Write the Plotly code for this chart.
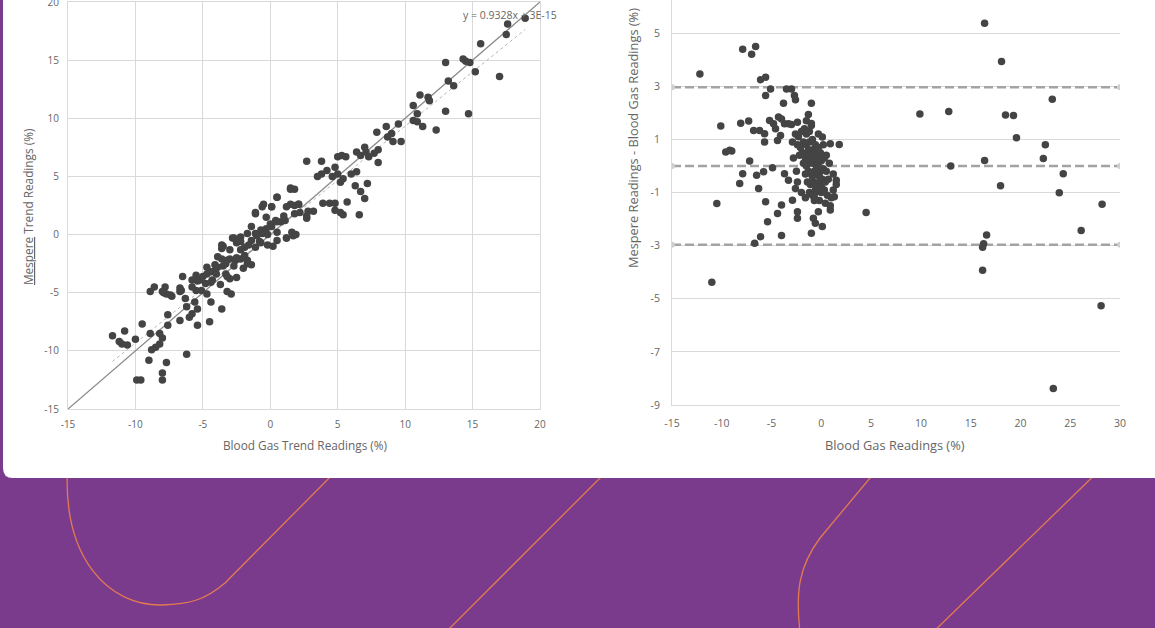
import plotly.graph_objects as go

# ---------------- DATA ----------------
# Left: Mespere trend vs blood gas trend (%)
left_x = [17.6, 18.9, 17.5, 15.6, 17.0, 15.2, 13.0, 14.3, 14.5, 14.8, 13.2, 13.6, 13.0, 14.7,
          11.1, 11.7, 11.8, 10.6, 10.9, 10.6, 10.9, 11.3, 12.3, 9.5, 9.7, 9.0, 8.6, 9.1, 8.7,
          7.9, 8.0, 8.0, 7.7, 7.0, 7.1, 6.4, 6.7, 7.3, 7.2, 7.0, 6.7, 6.3, 6.4, 6.0, 5.4, 5.2,
          5.0, 4.8, 5.0, 5.3, 5.6, 4.6, 4.2, 3.8, 3.5, 3.8, 2.7, 3.9, 4.4, 4.8, 4.8, 5.2, 5.4,
          5.7, 6.6, 3.2, 2.8, 2.7, 2.1, 1.5, 1.8, 1.8, 1.8, 1.2, 0.5, 0.1, -0.6, -1.1, 1.9, 1.2,
          1.6, 0.8, 0.4, 1.1, 0.1, -0.3, -0.6, 0.5, 0.2, -0.2, -0.8, -1.1, -1.1, -1.4, -1.4,
          -1.7, -1.9, -2.2, -2.5, -2.8, -1.9, -2.2, -2.6, -3.0, -3.3, -3.6, -3.6, -3.6, -3.3,
          -3.0, -2.9, -3.2, -3.6, -3.9, -4.1, -4.3, -4.4, -4.5, -4.7, -4.8, -4.7, -5.1, -5.2,
          -5.5, -5.8, -5.5, -5.6, -5.4, -5.4, -5.8, -6.2, -6.0, -6.3, -6.5, -6.7, -6.7, -6.2,
          -7.6, -7.6, -7.7, -8.0, -8.0, -8.0, -8.2, -8.5, -8.8, -8.2, -8.9, -9.0, -9.5, -9.6,
          -9.9, -10.0, -10.8, -10.6, -11.0, -11.2, -11.7, -8.9, -8.6, -7.8, -8.0, -7.7, -7.4,
          -6.6, -4.7, 1.5, 0.5, -0.5, 0.1, -1.1, -0.3, 1.5, 2.1, 2.2, 2.7, 1.0, 0.5, 0.0, -0.7,
          -1.4, -1.7, -2.2, -2.7, -1.0, -0.2, 0.5, 1.2, 1.7, -2.5, -1.6, -0.7, -3.5, -3.0, -2.2,
          -3.9, -3.2, -2.5, -1.7, -4.1, -3.5, -2.7, -2.0, -4.4, -5.0, -4.0, -3.2, -2.5, -5.4,
          -4.4, -3.7, -5.8, -7.9, -7.3, -6.7]
left_y = [18.1, 18.6, 17.2, 16.4, 13.6, 14.0, 14.8, 15.1, 14.9, 14.8, 13.2, 12.8, 10.6, 10.4,
          12.0, 11.8, 11.5, 11.1, 10.4, 9.8, 9.7, 9.3, 9.0, 9.5, 8.0, 8.7, 9.3, 8.0, 8.4,
          8.8, 7.3, 6.2, 7.0, 7.5, 7.1, 7.1, 6.8, 6.7, 4.4, 3.1, 3.7, 4.2, 5.4, 5.2, 4.8, 4.5,
          5.2, 5.8, 6.7, 6.8, 6.7, 5.0, 5.5, 5.2, 5.0, 6.3, 6.3, 2.7, 2.7, 2.7, 2.1, 1.9, 1.7,
          2.8, 1.7, 2.0, 2.0, 1.4, 2.6, 3.9, 3.9, 2.5, 1.8, 2.4, 3.2, 2.4, 2.4, 1.8, 0.0, -0.3,
          0.2, 1.1, 1.2, 1.2, 0.7, 0.5, 0.1, -0.5, -1.0, -0.9, -0.6, 0.1, -1.1, -0.5, -2.6,
          -2.5, -1.1, -0.6, -0.5, -0.3, -1.8, -2.1, -2.2, -2.1, -2.5, -2.1, -1.2, -0.9, -3.4,
          -3.8, -5.1, -4.9, -6.4, -2.8, -3.1, -3.9, -5.8, -7.5, -3.4, -4.2, -5.1, -4.8, -3.9,
          -3.5, -3.9, -4.8, -5.8, -6.4, -7.8, -6.8, -6.2, -7.1, -5.5, -3.6, -4.9, -7.4, -10.3,
          -6.9, -7.8, -11.0, -11.9, -12.5, -8.9, -9.4, -9.7, -9.9, -8.5, -8.5, -10.8, -7.7, -12.5,
          -12.5, -9.0, -8.3, -9.5, -9.4, -9.2, -8.7, -4.9, -4.5, -4.5, -4.9, -5.1, -5.2,
          -4.8, -2.8, 4.0, 3.2, 2.6, 2.4, 1.9, 1.5, 2.6, 2.6, 1.9, 1.6, 1.6, 1.1, 0.9, 0.4,
          0.7, 0.1, -0.2, -0.3, -0.1, 0.0, 0.2, -0.3, -0.1, -0.7, -0.9, -0.7, -1.0, -1.3, -1.3,
          -1.9, -2.2, -2.0, -2.2, -2.6, -2.7, -2.7, -2.9, -3.2, -3.6, -3.4, -3.6, -3.7, -4.0,
          -4.1, -4.3, -4.5, -5.0, -5.3, -4.6]

# Right: Bland-Altman (difference vs blood gas reading)
right_x = [-12.2, -7.9, -7.0, -6.6, -6.1, -5.6, -5.1, -5.6, -3.5, -3.0, -2.7, -2.6, -3.8, -1.0,
           -1.3, -10.1, -8.1, -7.3, -6.8, -6.2, -5.7, -5.7, -5.2, -4.8, -4.3, -4.0, -3.7, -4.6,
           -4.1, -4.4, -3.3, -3.0, -2.4, -9.6, -9.2, -9.0, -7.2, -5.8, -4.9, -7.9, -8.2, -6.5,
           -6.3, -3.7, -3.3, -2.6, -5.6, -4.0, -4.4, -5.4, -6.1, -4.0, -6.7, -2.9, -2.4, -2.4,
           -1.0, 0.1, -0.8, -0.6, -0.3, 0.9, 1.8, 1.5, 1.3, 0.9, 0.1, -1.0, -10.5, -11.0, 4.5,
           9.9, 12.8, 13.0, 16.4, 18.1, 18.5, 19.3, 19.6, 16.4, 18.0, 16.6, 16.3, 16.2, 16.2,
           23.2, 22.5, 22.3, 24.3, 23.9, 26.1, 28.2, 28.1, 23.3,
           -2.6, -2.3, -2.0, -1.7, -1.5, -1.2, -2.4, -2.1, -1.8, -1.5, -1.2, -0.9, -0.6, -2.2,
           -1.9, -1.6, -1.3, -1.0, -0.7, -0.4, -0.1, -1.8, -1.5, -1.2, -0.9, -0.6, -0.3, 0.0,
           0.3, -1.6, -1.3, -1.0, -0.7, -0.4, -0.1, 0.2, 0.5, -1.4, -1.1, -0.8, -0.5, -0.2,
           0.1, 0.4, 0.7, -1.2, -0.9, -0.6, -0.3, 0.0, 0.3, 0.6, 1.0, 1.2, -0.7, -0.2, 0.4, 0.9,
           -2.0, -1.6, -2.4, -2.8, -2.9, -2.5, -0.3, 0.2, 0.5, 0.8, 1.2, 1.5, -1.5, -1.0,
           -1.1, -0.8, -0.5, -0.2, -0.9, -0.6, -0.3, -1.3, -0.4, 0.0, -0.7, -1.0]
right_y = [3.46, 4.40, 4.21, 4.50, 3.25, 3.34, 2.90, 2.65, 2.90, 2.90, 2.65, 2.49, 2.36, 2.36,
           1.94, 1.51, 1.61, 1.69, 1.34, 1.34, 1.21, 0.90, 1.71, 1.59, 1.84, 1.77, 1.59, 1.40,
           1.15, 0.96, 1.59, 1.56, 1.65, 0.53, 0.59, 0.56, 0.19, -0.22, -0.07, -0.29, -0.66,
           -0.35, -0.85, -0.29, -0.54, -0.85, -1.35, -1.47, -1.79, -2.10, -2.66, -2.62, -2.91,
           -1.29, -1.72, -1.97, -2.53, -2.28, -1.97, -2.16, -1.72, 0.84, 0.81, -0.54, -1.16,
           -1.66, 1.09, 1.52, -1.41, -4.38, -1.75, 1.96, 2.05, 0.0, 5.37, 3.93, 1.92, 1.90, 1.06,
           0.21, -0.74, -2.60, -2.93, -3.06, -3.93, 2.51, 0.80, 0.28, -0.29, -1.01, -2.43, -1.44,
           -5.26, -8.38,
           1.2, 1.1, 1.3, 1.4, 1.2, 1.3, 0.8, 0.7, 0.9, 0.8, 0.9, 1.0, 0.8, 0.4, 0.5, 0.3, 0.5,
           0.6, 0.5, 0.6, 0.5, 0.1, 0.0, 0.2, 0.1, 0.2, 0.1, 0.2, 0.3, -0.3, -0.2, -0.3, -0.2,
           -0.3, -0.2, -0.1, -0.2, -0.6, -0.7, -0.6, -0.7, -0.6, -0.5, -0.6, -0.5, -1.0, -1.1,
           -1.0, -0.9, -1.0, -0.9, -1.1, -1.2, -0.9, -1.3, -1.3, -1.4, -1.5, -1.0, -1.2, -0.6,
           0.3, 0.9, -0.2, 1.2, 0.8, 0.4, 0.1, -0.3, -0.7, 1.7, 1.6,
           0.4, 0.3, 0.0, -0.4, -0.4, -0.9, 0.7, 0.6, 0.3, -0.8, -1.2, 0.2]

# Reference lines
identity_x = [-15, 20]
trend_slope = 0.9328
trend_x = [-11.7, 18.9]
mean_diff = 0.0
upper_loa = 2.96
lower_loa = -2.97
loa_x = [-15, 30]

left_ticks = [-15, -10, -5, 0, 5, 10, 15, 20]
left_tick_text = ["-15", "-10", "-5", "0", "5", "10", "15", "20"]
right_xticks = [-15, -10, -5, 0, 5, 10, 15, 20, 25, 30]
right_xtick_text = ["-15", "-10", "-5", "0", "5", "10", "15", "20", "25", "30"]
right_yticks = [5, 3, 1, -1, -3, -5, -7, -9]
right_ytick_text = ["5", "3", "1", "-1", "-3", "-5", "-7", "-9"]

# ---------------- LAYOUT HELPERS ----------------
W, H = 1155, 628
def px(x):
    return x / W
def py(y):
    return 1 - y / H

PURPLE = "#7b3b8c"
ORANGE = "#e27a52"
GRID = "#d9d9d9"
DOT = "#444444"
TXT = "#666666"
FONT = "Open Sans"

fig = go.Figure()

# left chart
fig.add_trace(go.Scatter(x=identity_x, y=identity_x, mode="lines",
                         line=dict(color="#8a8a8a", width=1.3), xaxis="x", yaxis="y",
                         hoverinfo="skip", showlegend=False))
fig.add_trace(go.Scatter(x=trend_x, y=[trend_slope * v for v in trend_x], mode="lines",
                         line=dict(color="#b5b5b5", width=1, dash="dot"), xaxis="x", yaxis="y",
                         hoverinfo="skip", showlegend=False))
fig.add_trace(go.Scatter(x=left_x, y=left_y, mode="markers",
                         marker=dict(color=DOT, size=7.5), xaxis="x", yaxis="y",
                         showlegend=False))

# right chart
for yv in (upper_loa, mean_diff, lower_loa):
    fig.add_trace(go.Scatter(x=loa_x, y=[yv, yv], mode="lines+markers",
                             line=dict(color="#a3a3a3", width=2.5, dash="9px,4px"),
                             marker=dict(color="#cfcfcf", size=6),
                             xaxis="x2", yaxis="y2", hoverinfo="skip", showlegend=False))
fig.add_trace(go.Scatter(x=right_x, y=right_y, mode="markers",
                         marker=dict(color=DOT, size=7.5), xaxis="x2", yaxis="y2",
                         showlegend=False))

tickfont = dict(family=FONT, size=10, color=TXT)
tickfont2 = dict(family=FONT, size=10.5, color=TXT)

# decorative shapes
def pt(x, y):
    return f"{px(x):.5f},{py(y):.5f}"

shapes = []
deco_paths = [
    f"M {pt(68,460)} C {pt(60,560)} {pt(110,606)} {pt(162,605)} C {pt(190,604)} {pt(205,600)} {pt(225,583)} L {pt(345,462)}",
    f"M {pt(618,460)} L {pt(440,638)}",
    f"M {pt(885,460)} L {pt(820,538)} C {pt(800,565)} {pt(794,590)} {pt(801,640)}",
    f"M {pt(1110,460)} L {pt(925,640)}",
]
for p in deco_paths:
    shapes.append(dict(type="path", path=p, xref="paper", yref="paper", layer="below",
                       line=dict(color=ORANGE, width=1.3)))
r = 10
panel = (f"M {pt(3,-5)} L {pt(3,478-r)} Q {pt(3,478)} {pt(3+r,478)} "
         f"L {pt(1170,478)} L {pt(1170,-5)} Z")
shapes.append(dict(type="path", path=panel, xref="paper", yref="paper", layer="below",
                   fillcolor="white", line=dict(width=0)))

def ann(text, x, y, size, angle=0):
    return dict(text=text, x=px(x), y=py(y), xref="paper", yref="paper",
                xanchor="center", yanchor="middle", showarrow=False, textangle=angle,
                font=dict(family=FONT, size=size, color=TXT))

annotations = [
    ann("y = 0.9328x + 3E-15", 510, 15, 10.5),
    ann("Blood Gas Trend Readings (%)", 305, 445, 11.8),
    ann("<u>Mespere</u> Trend Readings (%)", 28, 207, 11.8, -90),
    ann("Blood Gas Readings (%)", 895, 445, 12.8),
    ann("Mespere Readings - Blood Gas Readings (%)", 633, 138, 12.8, -90),
]

fig.update_layout(
    width=W, height=H, autosize=False,
    margin=dict(l=0, r=0, t=0, b=0, pad=0, autoexpand=False),
    paper_bgcolor=PURPLE, plot_bgcolor="rgba(0,0,0,0)",
    font=dict(family=FONT, color=TXT),
    shapes=shapes, annotations=annotations,
    xaxis=dict(domain=[px(68), px(540)], range=[-15, 20], tickvals=left_ticks,
               ticktext=left_tick_text,
               showgrid=True, gridcolor=GRID, gridwidth=1, zeroline=False,
               showline=True, linecolor=GRID, mirror=True,
               ticks="outside", ticklen=6, tickcolor="rgba(0,0,0,0)",
               tickfont=tickfont, anchor="y", ticklabeloverflow="allow", automargin=False),
    yaxis=dict(domain=[py(409), py(2)], range=[-15, 20], tickvals=left_ticks,
               ticktext=left_tick_text,
               showgrid=True, gridcolor=GRID, gridwidth=1, zeroline=False,
               showline=True, linecolor=GRID, mirror=True,
               ticks="outside", ticklen=6, tickcolor="rgba(0,0,0,0)",
               tickfont=tickfont, anchor="x", ticklabeloverflow="allow", automargin=False),
    xaxis2=dict(domain=[px(672), px(1120)], range=[-15, 30], tickvals=right_xticks,
                ticktext=right_xtick_text,
                showgrid=False, zeroline=False, showline=True, linecolor=GRID,
                ticks="outside", ticklen=8, tickcolor="rgba(0,0,0,0)",
                tickfont=tickfont2, anchor="y2", ticklabeloverflow="allow", automargin=False),
    yaxis2=dict(domain=[py(405), 1.0], range=[-9, 6.25], tickvals=right_yticks,
                ticktext=right_ytick_text,
                showgrid=True, gridcolor=GRID, gridwidth=1, zeroline=False,
                showline=True, linecolor=GRID,
                ticks="outside", ticklen=9, tickcolor="rgba(0,0,0,0)",
                tickfont=tickfont2, anchor="x2", ticklabeloverflow="allow", automargin=False),
)

fig.write_html(
    "out.html",
    config={"displayModeBar": False},
    post_script="document.body.style.margin='0';document.body.style.overflow='hidden';",
)
